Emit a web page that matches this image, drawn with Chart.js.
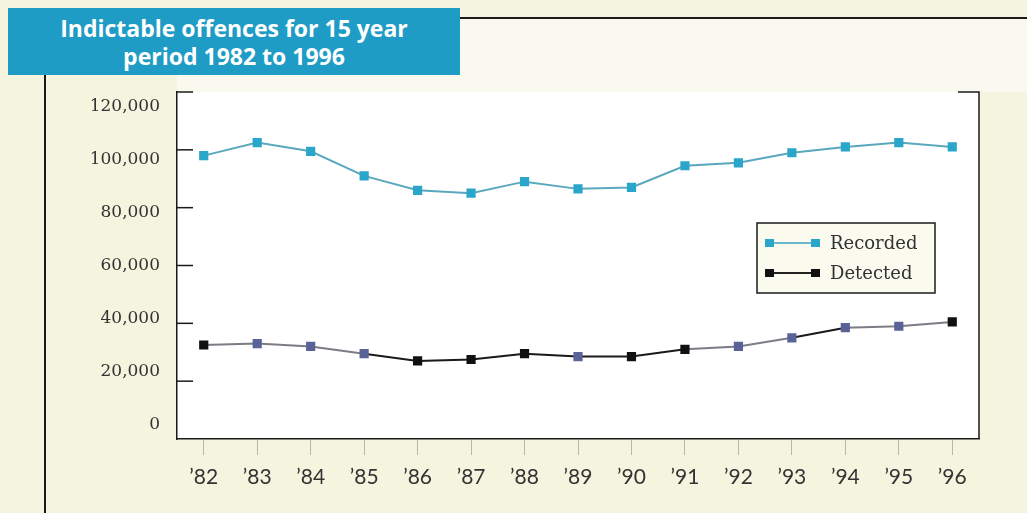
<!DOCTYPE html>
<html>
<head>
<meta charset="utf-8">
<script src="https://cdn.jsdelivr.net/npm/chart.js@4"></script>
<style>
  html, body { margin: 0; padding: 0; background: #f5f4df; }
  #wrap { position: relative; width: 1027px; height: 513px; overflow: hidden; }
  #chart { position: absolute; left: 0; top: 0; }
  #title {
    position: absolute; left: 8px; top: 8px; width: 452px; height: 67px;
    background: #1e9cc5; color: #fff; font: bold 23px "Open Sans", sans-serif;
    line-height: 28px; text-align: center;
    display: flex; align-items: center; justify-content: center;
  }
  .rule { position: absolute; background: #1a1a1a; }
</style>
</head>
<body>
<div id="wrap">
  <canvas id="chart" width="1027" height="513"></canvas>
  <div class="rule" style="left:460px;top:17px;width:567px;height:2px"></div>
  <div class="rule" style="left:44px;top:75px;width:2px;height:438px"></div>
  <div id="title">Indictable offences for 15 year<br>period 1982 to 1996</div>
</div>
<script>
const years = ['’82', '’83', '’84', '’85', '’86', '’87', '’88', '’89', '’90', '’91', '’92', '’93', '’94', '’95', '’96'];
const recorded = [98000, 102500, 99500, 91000, 86000, 85000, 89000, 86500, 87000, 94500, 95500, 99000, 101000, 102500, 101000];
const detected = [32500, 33000, 32000, 29500, 27000, 27500, 29500, 28500, 28500, 31000, 32000, 35000, 38500, 39000, 40500];
const yTicks = [0, 20000, 40000, 60000, 80000, 100000, 120000];

// print-like colour wobble on the detected series
const detMarkBlue = [0, 1, 1, 1, 0, 0, 0, 1, 0, 0, 1, 1, 1, 1, 0];
const detSegGrey = [1, 1, 1, 0, 0, 0, 0, 0, 0, 1, 1, 0, 1, 1];

const canvas = document.getElementById('chart');

const framePlugin = {
  id: 'frame',
  beforeDraw(chart) {
    const { ctx, chartArea: ca } = chart;
    ctx.save();
    ctx.fillStyle = '#f5f4df';
    ctx.fillRect(0, 0, chart.width, chart.height);
    ctx.fillStyle = '#f9f9f0';
    ctx.fillRect(177, 19, chart.width - 177, ca.top - 19);
    ctx.fillStyle = '#ffffff';
    ctx.fillRect(ca.left, ca.top, ca.right - ca.left, ca.bottom - ca.top);
    ctx.restore();
  },
  afterDraw(chart) {
    const { ctx, chartArea: ca } = chart;
    const y = chart.scales.y;
    ctx.save();
    ctx.strokeStyle = '#1a1a1a';
    ctx.lineWidth = 1.5;
    // inward tick marks
    yTicks.forEach(v => {
      const py = y.getPixelForValue(v);
      if (v === 0) return;
      ctx.beginPath();
      ctx.moveTo(ca.left, py);
      ctx.lineTo(ca.left + 16, py);
      ctx.stroke();
    });
    // right bracket
    ctx.beginPath();
    ctx.moveTo(ca.right - 21, ca.top);
    ctx.lineTo(ca.right, ca.top);
    ctx.lineTo(ca.right, ca.bottom);
    ctx.stroke();

    // legend box
    const lx = ca.left + 580, ly = ca.top + 131, w = 178, h = 70;
    ctx.fillStyle = '#fbfaee';
    ctx.fillRect(lx, ly, w, h);
    ctx.strokeRect(lx, ly, w, h);
    chart.data.datasets.forEach((ds, i) => {
      const ry = ly + 20 + i * 30;
      ctx.strokeStyle = ds.legendLine;
      ctx.lineWidth = 2;
      ctx.beginPath();
      ctx.moveTo(lx + 12, ry);
      ctx.lineTo(lx + 58, ry);
      ctx.stroke();
      ctx.fillStyle = ds.legendMark;
      ctx.fillRect(lx + 8, ry - 4, 9, 8);
      ctx.fillRect(lx + 54, ry - 4, 9, 8);
      ctx.fillStyle = '#333';
      ctx.font = '18px "DejaVu Serif"';
      ctx.textBaseline = 'middle';
      ctx.fillText(ds.label, lx + 73, ry + 1);
    });
    ctx.restore();
  }
};

new Chart(canvas, {
  type: 'line',
  data: {
    labels: years,
    datasets: [{
      label: 'Recorded',
      data: recorded,
      borderColor: '#5aa8be',
      borderWidth: 2,
      pointStyle: 'rect',
      pointRadius: 6.5,
      pointBackgroundColor: '#2aa6cb',
      pointBorderWidth: 0,
      tension: 0,
      legendLine: '#6ab8cc',
      legendMark: '#2aa6cb'
    }, {
      label: 'Detected',
      data: detected,
      borderColor: '#1a1a1a',
      borderWidth: 2,
      segment: {
        borderColor: c => detSegGrey[c.p0DataIndex] ? '#7c7c84' : '#1a1a1a'
      },
      pointStyle: 'rect',
      pointRadius: 6.5,
      pointBackgroundColor: detMarkBlue.map(b => b ? '#5a6398' : '#111111'),
      pointBorderWidth: 0,
      tension: 0,
      legendLine: '#222',
      legendMark: '#111'
    }]
  },
  options: {
    responsive: false,
    animation: false,
    layout: { padding: { top: 92, right: 48, bottom: 0, left: 0 } },
    plugins: { legend: { display: false }, title: { display: false }, tooltip: { enabled: false } },
    scales: {
      x: {
        type: 'category',
        offset: true,
        grid: { display: true, drawOnChartArea: false, drawTicks: true, tickLength: 16, color: '#b8b8b0', lineWidth: 1 },
        border: { color: '#1a1a1a', width: 1.5 },
        ticks: { font: { family: 'Lato', size: 21 }, color: '#333', padding: 10, maxRotation: 0, autoSkip: false },
        afterFit: s => { s.height = 74; }
      },
      y: {
        display: false,
        min: 0,
        max: 120000
      },
      yl: {
        position: 'left',
        min: -5283,
        max: 125660,
        grid: { display: false, drawTicks: false },
        border: { color: '#1a1a1a', width: 1.5 },
        afterBuildTicks: s => { s.ticks = yTicks.map(v => ({ value: v })); },
        ticks: {
          font: { family: 'DejaVu Serif', size: 17 },
          color: '#333',
          padding: 17,
          autoSkip: false,
          callback: v => v.toLocaleString('en-US')
        },
        afterFit: s => { s.width = 177; }
      }
    }
  },
  plugins: [framePlugin]
});
</script>
</body>
</html>
